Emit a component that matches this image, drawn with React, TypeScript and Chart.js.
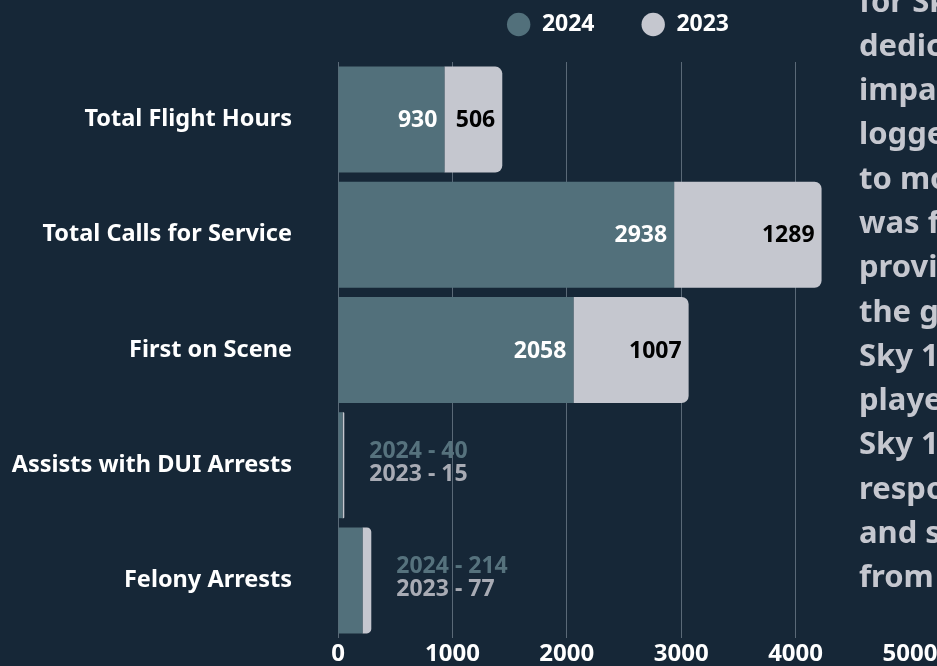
import React, { useEffect, useRef } from 'react';
import { Chart, registerables } from 'chart.js';

Chart.register(...registerables);

const categories = [
  'Total Flight Hours',
  'Total Calls for Service',
  'First on Scene',
  'Assists with DUI Arrests',
  'Felony Arrests',
];
const seriesNames = ['2024', '2023'];
const values2024 = [930, 2938, 2058, 40, 214];
const values2023 = [506, 1289, 1007, 15, 77];
const xTicks = [0, 1000, 2000, 3000, 4000, 5000];
const sideText = [
  'for Sky 1',
  'dedication',
  'impact',
  'logged',
  'to more',
  'was first',
  'providing',
  'the ground',
  'Sky 1',
  'played',
  'Sky 1',
  'response',
  'and support',
  'from',
];

const BG = '#162737';
const C2024 = '#52707b';
const C2023 = '#c5c7cf';
const FONT = '"Noto Sans", "DejaVu Sans", sans-serif';

const valueLabels = {
  id: 'valueLabels',
  afterDatasetsDraw(chart: any) {
    const ctx = chart.ctx;
    const m0 = chart.getDatasetMeta(0);
    const m1 = chart.getDatasetMeta(1);
    const left = chart.chartArea.left;
    const d0 = chart.data.datasets[0];
    const d1 = chart.data.datasets[1];
    ctx.save();
    ctx.textBaseline = 'middle';
    chart.data.labels.forEach((_: any, j: number) => {
      const e0 = m0.data[j];
      const e1 = m1.data[j];
      const end = e1.x;
      if (end - left < 60) {
        ctx.font = `bold 23px ${FONT}`;
        ctx.textAlign = 'left';
        ctx.fillStyle = '#56727d';
        ctx.fillText(`${d0.label} - ${d0.data[j]}`, end + 25, e0.y - 14);
        ctx.fillStyle = '#a8abb4';
        ctx.fillText(`${d1.label} - ${d1.data[j]}`, end + 25, e0.y + 9);
      } else {
        ctx.font = `bold 23px ${FONT}`;
        ctx.textAlign = 'right';
        ctx.fillStyle = '#ffffff';
        ctx.fillText(String(d0.data[j]), e0.x - 7, e0.y + 1);
        ctx.fillStyle = '#000000';
        ctx.fillText(String(d1.data[j]), e1.x - 7, e1.y + 1);
      }
    });
    ctx.restore();
  },
};

export default function App() {
  const ref = useRef<HTMLCanvasElement>(null);

  useEffect(() => {
    if (!ref.current) return;
    const chart = new Chart(ref.current, {
      type: 'bar',
      data: {
        labels: categories,
        datasets: [
          {
            label: seriesNames[0],
            data: values2024,
            backgroundColor: C2024,
            borderWidth: 0,
            borderRadius: 0,
            barPercentage: 0.92,
            categoryPercentage: 1,
          },
          {
            label: seriesNames[1],
            data: values2023,
            backgroundColor: C2023,
            borderWidth: 0,
            borderRadius: 7,
            barPercentage: 0.92,
            categoryPercentage: 1,
          },
        ],
      },
      options: {
        indexAxis: 'y',
        responsive: false,
        animation: false,
        devicePixelRatio: 1,
        layout: { padding: 0 },
        plugins: {
          tooltip: { enabled: false },
          title: {
            display: true,
            text: ' ',
            position: 'top',
            weight: 500,
            padding: 0,
            font: { size: 16, lineHeight: 1 },
          },
          legend: {
            display: true,
            position: 'top',
            align: 'center',
            fullSize: true,
            labels: {
              usePointStyle: true,
              pointStyle: 'circle',
              boxHeight: 16.5,
              pointStyleWidth: 23.4,
              padding: 47,
              color: '#ffffff',
              font: { family: FONT, size: 23, weight: 'bold' },
            },
          },
        },
        scales: {
          x: {
            type: 'linear',
            stacked: true,
            min: 0,
            max: 5000,
            afterBuildTicks: (s: any) => {
              s.ticks = xTicks.map((v) => ({ value: v }));
            },
            afterFit: (s: any) => {
              s.height = 30;
            },
            ticks: {
              color: '#ffffff',
              padding: 2,
              maxRotation: 0,
              font: { family: FONT, size: 24, weight: 'bold' },
              callback: (v: any) => String(v),
            },
            grid: {
              drawTicks: false,
              lineWidth: 1,
              color: (c: any) =>
                c.tick && c.tick.value === 5000 ? 'rgba(0,0,0,0)' : '#5a6977',
            },
            border: { display: false },
          },
          y: {
            type: 'category',
            stacked: true,
            afterFit: (s: any) => {
              s.width = 338;
            },
            grid: { display: false, drawTicks: true, tickLength: 40 },
            border: { display: false },
            ticks: {
              color: '#ffffff',
              padding: 6,
              font: { family: FONT, size: 23.5, weight: 'bold' },
            },
          },
          yRight: {
            type: 'category',
            position: 'right',
            afterFit: (s: any) => {
              s.width = 326;
            },
            grid: { display: false, drawTicks: false },
            border: { display: false },
            ticks: { display: false },
          },
        },
      },
      plugins: [valueLabels],
    } as any);
    return () => chart.destroy();
  }, []);

  return (
    <div
      style={{
        position: 'fixed',
        left: 0,
        top: 0,
        width: 937,
        height: 666,
        overflow: 'hidden',
        background: BG,
      }}
    >
      <canvas
        ref={ref}
        width={1236}
        height={702}
        style={{ position: 'absolute', left: 0, top: -34, width: 1236, height: 702 }}
      />
      <div
        style={{
          position: 'absolute',
          left: 859,
          top: -22.5,
          fontFamily: FONT,
          fontWeight: 700,
          fontSize: 31,
          lineHeight: '44.3px',
          color: C2023,
          whiteSpace: 'nowrap',
        }}
      >
        {sideText.map((t, i) => (
          <div key={i}>{t}</div>
        ))}
      </div>
    </div>
  );
}
